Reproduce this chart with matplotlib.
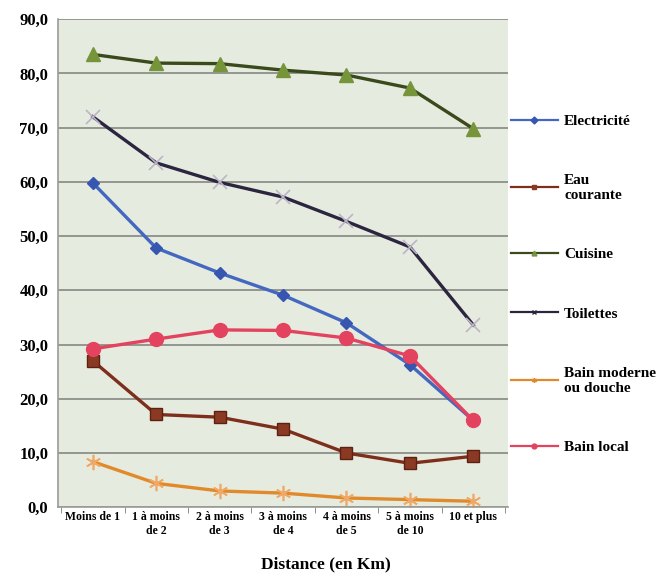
import matplotlib.pyplot as plt
import numpy as np

plt.rcParams['font.family'] = ['Liberation Serif', 'DejaVu Serif']

categories = ['Moins de 1', '1 à moins\nde 2', '2 à moins\nde 3', '3 à moins\nde 4',
              '4 à moins\nde 5', '5 à moins\nde 10', '10 et plus']
electricite = [59.8, 47.8, 43.2, 39.1, 34.0, 26.3, 16.0]
eau_courante = [27.0, 17.1, 16.6, 14.4, 10.0, 8.1, 9.4]
cuisine = [83.5, 81.9, 81.8, 80.6, 79.7, 77.3, 69.8]
toilettes = [72.0, 63.5, 59.9, 57.2, 52.7, 48.0, 33.6]
bain_moderne = [8.4, 4.4, 3.0, 2.6, 1.7, 1.4, 1.1]
bain_local = [29.2, 31.0, 32.7, 32.6, 31.2, 27.9, 16.0]

yticks = np.arange(0, 91, 10)
ytick_labels = [f'{v:.1f}'.replace('.', ',') for v in yticks]

BG = '#e6ebdf'
GRID = '#7d7f7a'

fig = plt.figure(figsize=(6.66, 5.81), dpi=100)
ax = fig.add_axes([0.087, 0.127, 0.676, 0.840])
ax.set_facecolor(BG)

x = np.arange(len(categories))
series = [
    ('Electricité', electricite, dict(color='#4468c0', marker='D', ms=6.5,
                                       mfc='#3656b0', mec='#3656b0')),
    ('Eau\ncourante', eau_courante, dict(color='#7e2f1c', marker='s', ms=9,
                                         mfc='#8a3a22', mec='#5e2010')),
    ('Cuisine', cuisine, dict(color='#3a4a1c', marker='^', ms=9.5,
                              mfc='#76943a', mec='#76943a')),
    ('Toilettes', toilettes, dict(color='#2c2540', marker='x', ms=10,
                                  mec='#bdb4c8', mew=1.2)),
    ('Bain moderne\nou douche', bain_moderne, dict(color='#e08a2c', marker=(6, 2, 0),
                                                   ms=11, mec='#f0a866', mew=1.2)),
    ('Bain local', bain_local, dict(color='#e3435f', marker='o', ms=10,
                                    mfc='#e3435f', mec='#e3435f')),
]
for label, vals, style in series:
    ax.plot(x, vals, lw=2.4, label=label, **style)

ax.set_ylim(0, 90)
ax.set_xlim(-0.55, len(categories) - 0.45)
ax.set_yticks(yticks, labels=ytick_labels)
ax.set_xticks(x, labels=categories)
ax.set_xticks(np.arange(-0.5, len(categories)), minor=True)
ax.tick_params(axis='x', which='major', length=0, pad=3, labelsize=8.5)
ax.tick_params(axis='x', which='minor', length=4, color=GRID)
ax.tick_params(axis='y', length=0, pad=7, labelsize=12)
for lab in ax.get_xticklabels() + ax.get_yticklabels():
    lab.set_fontweight('bold')
ax.grid(axis='y', color=GRID, lw=1.1)
ax.set_axisbelow(True)
for side in ['top', 'right']:
    ax.spines[side].set_visible(False)
for side in ['left', 'bottom']:
    ax.spines[side].set_color('#9a9c96')
    ax.spines[side].set_linewidth(1.2)

ax.set_xlabel('Distance (en Km)', fontsize=12.5, fontweight='bold', x=0.595, labelpad=14)

handles, labels = ax.get_legend_handles_labels()
small = []
for h in handles:
    h2 = plt.Line2D([], [], color=h.get_color(), lw=1.6, marker=h.get_marker(),
                    ms=3.5, mfc=h.get_markerfacecolor(), mec=h.get_markerfacecolor())
    small.append(h2)
leg = fig.legend(small, labels, loc='upper left', bbox_to_anchor=(0.746, 0.827),
                 frameon=False, handlelength=3.1, handletextpad=0.4,
                 labelspacing=3.0, prop=dict(weight='bold', size=11))

fig.savefig('out.png', dpi=100, facecolor='white')
